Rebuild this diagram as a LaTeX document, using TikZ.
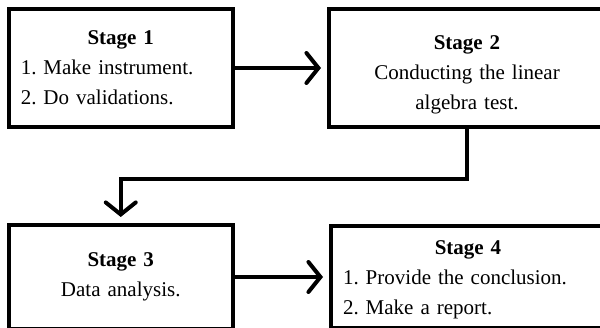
\documentclass[tikz,border=0pt]{standalone}
\usepackage{fontspec}
\setmainfont{Liberation Serif}
\usetikzlibrary{arrows.meta}
\frenchspacing

\begin{document}
\begin{tikzpicture}[x=1pt,y=-1pt,
    stagebox/.style={shape=rectangle,draw=black,line width=4pt,inner sep=0pt,
        text width=#1,font=\fontsize{21}{30}\selectfont},
    flow/.style={line width=4pt,line cap=round,shorten >=6pt,
        -{Straight Barb[length=12pt,width=30pt,line cap=round]}}]
        \clip (0,0) rectangle (600,328);

        \node[stagebox=200pt, minimum width=224.5pt, minimum height=118pt] (s1) at (120.75,68)
            {\centering\textbf{Stage 1}\par\raggedright 1. Make instrument.\par 2. Do validations.\par};
        \node[stagebox=250pt, minimum width=276pt, minimum height=118pt, align=center] (s2) at (467,68)
            {\rule{0pt}{28pt}\textbf{Stage 2}\\Conducting the linear\\algebra test.};
        \node[stagebox=200pt, minimum width=224.5pt, minimum height=104pt, align=center] (s3) at (120.75,277)
            {\textbf{Stage 3}\\Data analysis.};
        \node[stagebox=250pt, minimum width=274pt, minimum height=102pt] (s4) at (468,277)
            {\rule{0pt}{20pt}\hfill\textbf{Stage 4}\hfill\null\par\raggedright 1. Provide the conclusion.\par 2. Make a report.\par};

        \draw[flow] (s1.east) -- (s2.west);
        \draw[flow] (s2.south) -- ++(0,50) -| (s3.north);
        \draw[flow] (s3.east) -- (s4.west);
\end{tikzpicture}
\end{document}
